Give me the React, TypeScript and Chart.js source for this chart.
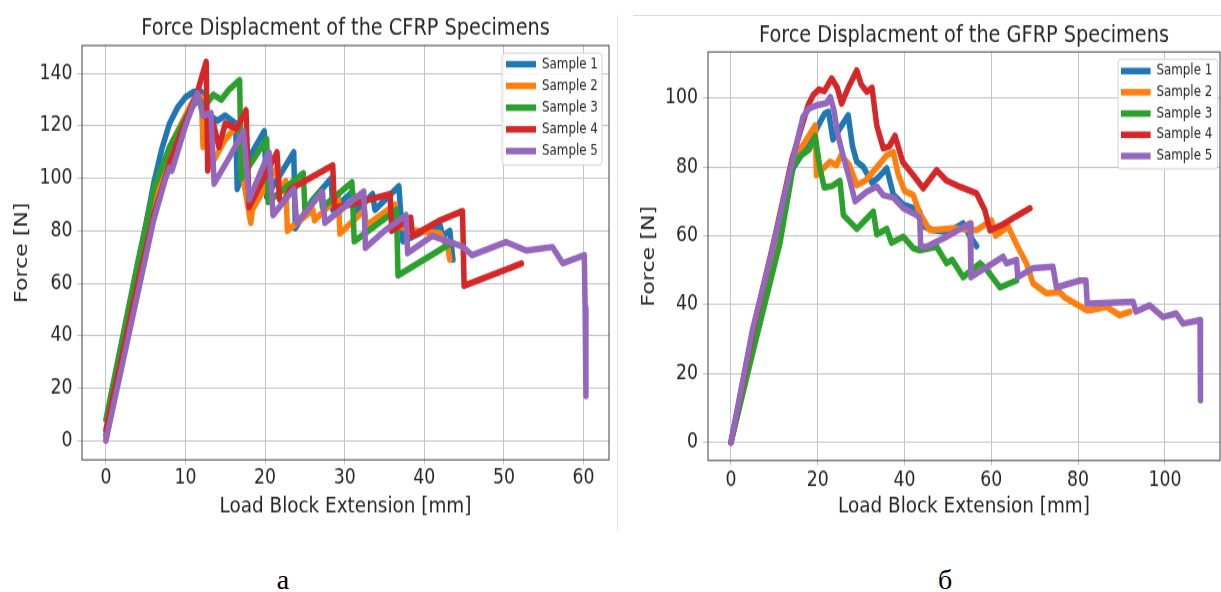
import React, { useEffect, useRef } from 'react';
import { Chart, registerables } from 'chart.js';

Chart.register(...registerables);

// ---------------- data ----------------
const sampleLabels = ['Sample 1', 'Sample 2', 'Sample 3', 'Sample 4', 'Sample 5'];
const sampleColors = ['#1f77b4', '#ff7f0e', '#2ca02c', '#d62728', '#9467bd'];

// CFRP (chart a)
const cfrp1X = [0, 2, 4, 6, 7, 8, 9, 10, 11, 12, 12.3, 13, 14, 15, 16.3, 16.5, 18, 19.9, 20.2, 22, 23.6, 23.8, 26, 28.3, 28.5, 31, 31.3, 33.5, 33.8, 36.8, 37.3, 40, 42, 42.3, 43.2, 43.6];
const cfrp1Y = [2, 34, 66, 98, 111, 121, 127, 131, 133, 133, 122, 124, 122, 124, 121, 96, 108, 118, 93, 102, 110, 81, 92, 100, 88, 95, 87, 94, 88, 97, 76, 80, 82, 78, 80, 69];
const cfrp2X = [0, 2, 4, 6, 8, 10, 11, 12, 12.2, 13, 13.4, 15, 16.8, 17, 18.2, 18.4, 21.6, 21.8, 22.6, 22.8, 26, 26.2, 29.2, 29.4, 32.5, 32.7, 36.3, 36.5, 39, 42, 43, 43.2];
const cfrp2Y = [0, 32, 63, 93, 112, 124, 130, 131, 112, 122, 106, 115, 121, 104, 83, 88, 105, 95, 99, 80, 88, 84, 93, 79, 88, 82, 90, 82, 80, 79, 73, 69];
const cfrp3X = [0, 2, 4, 6, 8, 10, 11, 11.7, 12.5, 13.5, 14.5, 15.5, 16.8, 17, 20.2, 20.4, 24.8, 25, 27, 27.2, 30.9, 31.2, 36.5, 36.7, 43.2];
const cfrp3Y = [8, 38, 68, 96, 112, 123, 128, 130, 128, 132, 130, 134, 137.5, 100, 115, 91, 102, 88, 95, 89, 98.5, 76, 88, 63, 75];
const cfrp4X = [0, 2, 4, 6, 8, 10, 11.5, 12.6, 12.8, 13.5, 14.2, 15, 16.4, 17.6, 18, 21.5, 21.8, 22.3, 23.2, 28.5, 28.7, 30, 35.7, 35.9, 38.3, 38.5, 42, 44.8, 45, 52.2];
const cfrp4Y = [4, 32, 60, 86, 106, 122, 133, 144.5, 103, 121, 112, 121, 119, 126, 89, 110, 92, 91, 96, 105, 89, 89.5, 94, 80, 85, 78, 84, 87.5, 59, 67.5];
const cfrp5X = [0, 2, 4, 6, 7.5, 8, 8.3, 10, 11.5, 12.2, 13.2, 13.6, 15.5, 17.3, 18, 20.5, 21, 23.6, 24, 27.2, 27.5, 29.5, 32.4, 32.6, 35, 37.7, 37.9, 41, 44.8, 46, 50.3, 52.8, 56.1, 57.4, 60.1, 60.2, 60.3];
const cfrp5Y = [0, 28, 56, 84, 100, 104, 103, 120, 132.5, 124, 125, 98, 108, 118, 92, 110, 86, 96, 83, 95, 83, 88, 95, 73.5, 80, 86, 71.5, 78, 74, 70.7, 75.7, 72.5, 73.8, 67.6, 70.7, 50.5, 17];

// GFRP (chart б)
const gfrp1X = [0, 5, 10, 14, 17, 19, 20.1, 21.6, 22.5, 23.5, 25, 27, 28, 29, 30.5, 32.5, 34, 35.9, 37.4, 39.7, 42, 43.5, 44, 46.6, 50, 53.5, 55, 56.6];
const gfrp1Y = [0, 28, 55, 79, 85, 89, 92, 95.5, 96, 88, 91, 95, 86, 81.5, 80, 75.4, 77, 79.6, 72, 69, 68, 67, 63, 61.6, 61, 63.6, 60, 57];
const gfrp2X = [0, 5, 10, 14.3, 16.6, 19.4, 19.7, 22.8, 24.3, 25.4, 27.3, 29, 31, 33, 35.9, 37.4, 38.5, 40, 42, 43.5, 45.8, 51.2, 56.6, 60, 61, 63.9, 65.8, 68.1, 69.6, 72.7, 75.8, 77, 82, 82.7, 86.6, 89.6, 91.9];
const gfrp2Y = [0, 27, 55, 83.4, 86.3, 92, 77.6, 81.5, 80.5, 83.4, 80.5, 74.7, 76, 79, 83.4, 84.3, 78, 73, 71.8, 66.5, 61.6, 62.2, 61.6, 64.5, 60, 62.6, 57.5, 52, 46.2, 43.3, 43.6, 42, 38.4, 38.4, 39.3, 36.9, 37.9];
const gfrp3X = [0, 5, 11.3, 14.4, 15.8, 18, 19.4, 20.5, 21.5, 23.4, 25.1, 25.9, 29, 32.8, 33.6, 35.9, 37, 39.7, 42, 43.5, 47.4, 49.7, 51, 53.5, 57.4, 59, 62, 65.8];
const gfrp3Y = [0, 26, 58, 80.5, 83, 85, 89, 79.6, 74, 74.5, 76, 66, 62, 67, 60.4, 62, 58, 59.7, 56.4, 55.8, 56.8, 52, 53, 48, 52, 50, 45, 47];
const gfrp4X = [0, 5, 10, 14, 17.8, 19, 20.3, 21.5, 23.2, 24.5, 25.5, 27, 29, 30, 31.3, 32.5, 33.6, 35.1, 36.5, 37.8, 39.6, 42, 44.3, 47.4, 49.7, 52.8, 56.6, 58.5, 59.7, 62.7, 65.5, 68.9];
const gfrp4Y = [0, 32, 59, 82, 98, 101, 102.5, 102, 105.7, 103, 98.4, 103, 108, 104, 101.8, 103, 92, 85.4, 86, 89, 81.4, 77.6, 73.8, 79, 76, 74.2, 72.3, 67.4, 61.6, 63.3, 65.5, 68];
const gfrp5X = [0, 5, 9.7, 14, 16.6, 18, 20, 22, 22.9, 23.8, 24.5, 25.8, 27, 28.6, 31.3, 33.6, 35.1, 37.5, 39.7, 42.8, 43.5, 43.7, 45.1, 49.7, 55.1, 55.3, 62.7, 63.5, 65.8, 66.1, 69.6, 74.2, 75, 80.4, 81.8, 82.1, 92.7, 93.3, 96.5, 99.6, 102.6, 104.2, 108.1, 108.2];
const gfrp5Y = [0, 33, 57, 81, 94.6, 97, 98, 98.5, 100.3, 96, 90, 83.4, 78, 70, 72.8, 74.3, 71.8, 71, 68, 66, 65, 57, 56.8, 59.7, 63.6, 48, 53.9, 52, 53, 48, 50.6, 51, 45, 47, 47, 40.3, 40.8, 38, 39.8, 36.4, 37.4, 34.5, 35.5, 12.2];

const cfrpXTicks = [0, 10, 20, 30, 40, 50, 60];
const cfrpYTicks = [0, 20, 40, 60, 80, 100, 120, 140];
const gfrpXTicks = [0, 20, 40, 60, 80, 100];
const gfrpYTicks = [0, 20, 40, 60, 80, 100];

const cfrpTitle = 'Force Displacment of the CFRP Specimens';
const gfrpTitle = 'Force Displacment of the GFRP Specimens';
const xAxisTitle = 'Load Block Extension [mm]';
const yAxisTitle = 'Force [N]';

// ---------------- styling ----------------
const K = 1.2; // vertical stretch of the original figure
const CH = 442; // unscaled canvas height
const FONT = "'DejaVu Sans', 'Noto Sans', sans-serif";
const TEXT = '#262626';

const frameLegendPlugin = {
  id: 'frameLegend',
  afterDraw(chart: any, _args: any, opts: any) {
    const { ctx, chartArea: a } = chart;
    ctx.save();
    ctx.strokeStyle = '#404040';
    ctx.lineWidth = 1;
    ctx.strokeRect(a.left, a.top, a.right - a.left, a.bottom - a.top);
    // legend box
    const { x, y, w, h, row0, gap, l0, l1, tx } = opts;
    ctx.beginPath();
    const r = 3;
    ctx.moveTo(x + r, y);
    ctx.lineTo(x + w - r, y);
    ctx.quadraticCurveTo(x + w, y, x + w, y + r);
    ctx.lineTo(x + w, y + h - r);
    ctx.quadraticCurveTo(x + w, y + h, x + w - r, y + h);
    ctx.lineTo(x + r, y + h);
    ctx.quadraticCurveTo(x, y + h, x, y + h - r);
    ctx.lineTo(x, y + r);
    ctx.quadraticCurveTo(x, y, x + r, y);
    ctx.closePath();
    ctx.fillStyle = 'rgba(255,255,255,0.85)';
    ctx.fill();
    ctx.strokeStyle = '#d4d4d4';
    ctx.lineWidth = 1;
    ctx.stroke();
    chart.data.datasets.forEach((ds: any, i: number) => {
      const yy = y + row0 + i * gap;
      ctx.beginPath();
      ctx.strokeStyle = ds.borderColor;
      ctx.lineWidth = 5.5;
      ctx.lineCap = 'butt';
      ctx.moveTo(l0, yy);
      ctx.lineTo(l1, yy);
      ctx.stroke();
      ctx.fillStyle = TEXT;
      ctx.font = `11.9px ${FONT}`;
      ctx.textBaseline = 'middle';
      ctx.textAlign = 'left';
      ctx.fillText(ds.label, tx, yy);
    });
    ctx.restore();
  },
};

function buildConfig(p: any) {
  return {
    type: 'line',
    data: {
      datasets: p.series.map((s: any, i: number) => ({
        label: sampleLabels[i],
        data: s.x.map((x: number, j: number) => ({ x, y: s.y[j] })),
        borderColor: sampleColors[i],
        backgroundColor: sampleColors[i],
        borderWidth: 5.5,
        pointRadius: 0,
        pointHoverRadius: 0,
        tension: 0,
        fill: false,
        borderJoinStyle: 'round',
        borderCapStyle: 'round',
        order: 4 - i,
      })),
    },
    options: {
      responsive: false,
      animation: false,
      devicePixelRatio: 1,
      events: [],
      layout: { padding: { left: 0, right: p.padRight, top: 0, bottom: 0 } },
      plugins: {
        legend: { display: false },
        tooltip: { enabled: false },
        title: {
          display: true,
          fullSize: false,
          align: 'center',
          text: p.title,
          color: TEXT,
          font: { family: FONT, size: 19.3, weight: 'normal' },
          padding: { top: p.titlePadTop, bottom: p.titlePadBottom },
        },
        frameLegend: p.legend,
      },
      scales: {
        x: {
          type: 'linear',
          min: p.xMin,
          max: p.xMax,
          afterBuildTicks: (ax: any) => { ax.ticks = p.xTicks.map((v: number) => ({ value: v })); },
          afterFit: (ax: any) => { ax.height = p.xAxisHeight; },
          ticks: {
            font: { family: FONT, size: 17.3 },
            color: TEXT,
            padding: p.xTickPad,
            maxRotation: 0,
            autoSkip: false,
            callback: (v: any) => String(v),
          },
          grid: { color: '#c4c4c4', lineWidth: 1, tickLength: 4, drawTicks: true },
          border: { display: false },
          title: {
            display: true,
            text: xAxisTitle,
            color: TEXT,
            font: { family: FONT, size: 18.4 },
            padding: { top: 0, bottom: 9.2 },
          },
        },
        y: {
          type: 'linear',
          min: p.yMin,
          max: p.yMax,
          afterBuildTicks: (ax: any) => { ax.ticks = p.yTicks.map((v: number) => ({ value: v })); },
          afterFit: (ax: any) => { ax.width = p.yAxisWidth; },
          ticks: {
            font: { family: FONT, size: 17.3 },
            color: TEXT,
            padding: p.yTickPad,
            autoSkip: false,
            callback: (v: any) => String(v),
          },
          grid: { color: '#c4c4c4', lineWidth: 1, tickLength: 5, drawTicks: true },
          border: { display: false },
          title: {
            display: true,
            text: yAxisTitle,
            color: TEXT,
            font: { family: FONT, size: 18.4 },
            padding: { top: p.yTitlePad, bottom: 0 },
          },
        },
      },
    },
    plugins: [frameLegendPlugin],
  };
}

const leftParams = {
  title: cfrpTitle,
  series: [
    { x: cfrp1X, y: cfrp1Y },
    { x: cfrp2X, y: cfrp2Y },
    { x: cfrp3X, y: cfrp3Y },
    { x: cfrp4X, y: cfrp4Y },
    { x: cfrp5X, y: cfrp5Y },
  ],
  xTicks: cfrpXTicks,
  yTicks: cfrpYTicks,
  xMin: -3.0,
  xMax: 63.2,
  yMin: -7.4,
  yMax: 150.7,
  padRight: 11,
  titlePadTop: 12.3,
  titlePadBottom: 2.5,
  xAxisHeight: CH - 383.2,
  yAxisWidth: 82,
  xTickPad: 1.1,
  yTickPad: 4.5,
  yTitlePad: 10.7,
  legend: { x: 502, y: 44.2, w: 100, h: 93.4, row0: 9.3, gap: 18.1, l0: 506, l1: 536, tx: 542 },
};

const rightParams = {
  title: gfrpTitle,
  series: [
    { x: gfrp1X, y: gfrp1Y },
    { x: gfrp2X, y: gfrp2Y },
    { x: gfrp3X, y: gfrp3Y },
    { x: gfrp4X, y: gfrp4Y },
    { x: gfrp5X, y: gfrp5Y },
  ],
  xTicks: gfrpXTicks,
  yTicks: gfrpYTicks,
  xMin: -5.3,
  xMax: 112.7,
  yMin: -5.3,
  yMax: 113.4,
  padRight: 1,
  titlePadTop: 18,
  titlePadBottom: 2.1,
  xAxisHeight: CH - 383.8,
  yAxisWidth: 88,
  xTickPad: 1.9,
  yTickPad: 5,
  yTitlePad: 17.7,
  legend: { x: 498, y: 49.3, w: 99.7, h: 91.6, row0: 9.9, gap: 17.7, l0: 501, l1: 530.6, tx: 536.4 },
};

function ChartPanel({ params, left, width }: { params: any; left: number; width: number }) {
  const ref = useRef<HTMLCanvasElement | null>(null);
  useEffect(() => {
    if (!ref.current) return;
    const chart = new Chart(ref.current, buildConfig(params) as any);
    return () => chart.destroy();
  }, [params]);
  return (
    <div
      style={{
        position: 'absolute',
        left,
        top: 0,
        width,
        height: CH,
        transform: `scaleY(${K})`,
        transformOrigin: '0 0',
      }}
    >
      <canvas ref={ref} width={width} height={CH} style={{ display: 'block', width, height: CH }} />
    </div>
  );
}

export default function App() {
  return (
    <div
      style={{
        position: 'absolute',
        left: 0,
        top: 0,
        width: 1221,
        height: 592,
        background: '#ffffff',
        overflow: 'hidden',
      }}
    >
      <div style={{ position: 'absolute', left: 633, top: 15, width: 588, height: 1, background: '#dcdcdc' }} />
      <div style={{ position: 'absolute', left: 617, top: 15, width: 1, height: 516, background: '#e4e4e4' }} />
      <ChartPanel params={leftParams} left={0} width={620} />
      <ChartPanel params={rightParams} left={620} width={601} />
      <div
        style={{
          position: 'absolute',
          left: 243,
          top: 566,
          width: 80,
          textAlign: 'center',
          fontFamily: "'Liberation Serif', 'Times New Roman', serif",
          fontSize: 28,
          lineHeight: '28px',
          color: '#000',
        }}
      >
        а
      </div>
      <div
        style={{
          position: 'absolute',
          left: 905,
          top: 566,
          width: 80,
          textAlign: 'center',
          fontFamily: "'Liberation Serif', 'Times New Roman', serif",
          fontSize: 28,
          lineHeight: '28px',
          color: '#000',
        }}
      >
        б
      </div>
    </div>
  );
}
